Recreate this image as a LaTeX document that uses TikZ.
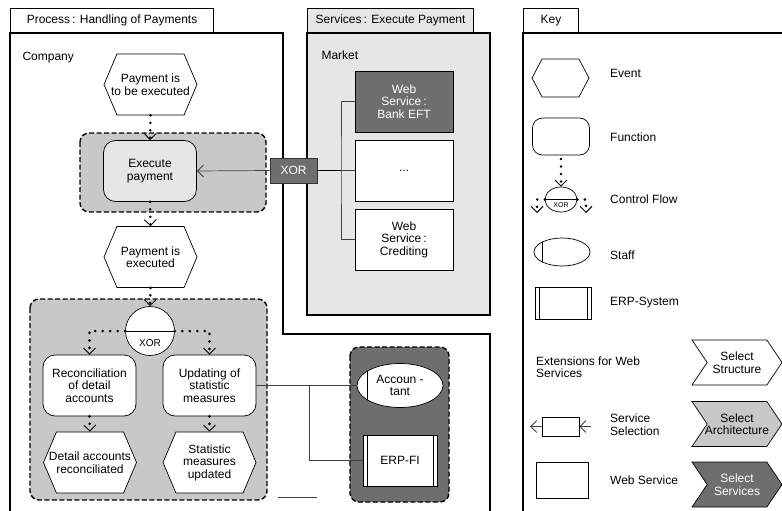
\documentclass[tikz,border=0pt]{standalone}
\usepackage{fontspec}
\setmainfont{Liberation Sans}
\usepackage{tikz}
\usetikzlibrary{arrows.meta,shapes.geometric,shapes.symbols}
\definecolor{epcdark}{HTML}{6E6E6E}
\definecolor{epcmid}{HTML}{C8C8C8}
\definecolor{epclight}{HTML}{E6E6E6}

\begin{document}
\begin{tikzpicture}[x=1pt, y=-1pt,
  >={Straight Barb[length=6pt,width=12pt,line width=0.9pt]},
  every node/.style={font=\fontsize{12}{12.5}\selectfont, align=center},
  frame/.style={line width=1.1pt},
  tabbox/.style={draw, line width=1.1pt, anchor=south west, minimum height=24pt, inner sep=0pt},
  grp/.style={draw, line width=1.4pt, dash pattern=on 5pt off 2.5pt, rounded corners=9pt},
  event/.style={draw, line width=0.7pt, fill=white, shape=signal, signal to=east and west,
    signal pointer angle=134, inner xsep=-12pt, minimum width=93pt, minimum height=61pt},
  func/.style={draw, line width=0.7pt, fill=white, rectangle, rounded corners=12pt,
    minimum width=93pt, minimum height=61pt, inner sep=1pt},
  websrv/.style={draw, line width=0.7pt, fill=white, minimum width=98pt, minimum height=61pt, inner sep=0pt},
  xorc/.style 2 args={draw, line width=0.7pt, fill=white, inner sep=0pt,
    path picture={\draw (path picture bounding box.west) -- (path picture bounding box.east);},
    label={[font=\fontsize{#1}{#1}\selectfont, inner sep=0pt, yshift=-#2]center:XOR}},
  xorbox/.style={draw=black!80, line width=0.7pt, fill=epcdark, text=white, minimum width=47pt, minimum height=25pt, inner sep=0pt},
  staff/.style={draw, ellipse, line width=0.7pt, fill=white, inner sep=0pt,
    path picture={\draw ([xshift=#1]path picture bounding box.north west) -- ([xshift=#1]path picture bounding box.south west);}},
  staff/.default=10pt,
  erp/.style={draw, line width=0.7pt, fill=white, inner sep=0pt,
    path picture={\draw ([xshift=4pt]path picture bounding box.north west) -- ([xshift=4pt]path picture bounding box.south west);
      \draw ([xshift=-4pt]path picture bounding box.north east) -- ([xshift=-4pt]path picture bounding box.south east);}},
  chev/.style={draw, line width=0.7pt, shape=signal, signal from=west, signal to=east,
    signal pointer angle=112, inner xsep=-4pt, minimum width=90pt, minimum height=45pt},
  flow/.style={->, line width=2.8pt, dash pattern=on 0pt off 7.5pt, line cap=round},
  wire/.style={line width=0.7pt, black!75},
  sel/.style={->, line width=0.7pt, black!75},
  keytxt/.style={anchor=west, inner sep=0pt, align=left}]

  \useasboundingbox (0,0) rectangle (782,511);

  % frames
  \node[tabbox, minimum width=203pt] (proctab) at (10,33) {Process\,: Handling of Payments};
  \draw[frame] (10,515) -- (10,33) -- (283,33) -- (283,334) -- (490,334) -- (490,515);
  \node[tabbox, fill=epclight, minimum width=166pt] (srvtab) at (307,33) {Services\,: Execute Payment};
  \draw[frame, fill=epclight] (307,33) rectangle (490,315);
  \node[tabbox, minimum width=55pt] (keytab) at (523,33) {Key};
  \draw[frame] (523,515) -- (523,33) -- (790,33);

  \node[anchor=west] (company) at (19,58) {Company};
  \node[anchor=west] (market) at (318,55) {Market};

  % groups
  \draw[grp, fill=epcmid] (80,133) rectangle (266,212);
  \draw[grp, fill=epcmid] (30,299) rectangle (267,500);
  \draw[grp, fill=epcdark] (350,347) rectangle (449,502);

  % process chain
  \node[event] (tobeexec) at (150.5,84.5) {Payment is\\to be executed};
  \node[func, fill=epclight] (execpay) at (150,171) {Execute\\payment};
  \node[event] (executed) at (150.5,257) {Payment is\\executed};
  \node[xorc={10}{12pt}, circle, minimum size=49pt] (split) at (150,331) {};
  \node[func] (reconcile) at (89.5,385.5) {Reconciliation\\of detail\\accounts};
  \node[func] (updating) at (209.5,385.5) {Updating of\\statistic\\measures};
  \node[event] (reconciled) at (90,462.5) {Detail accounts\\reconciliated};
  \node[event] (updated) at (209.5,462.5) {Statistic\\measures\\updated};

  \draw[flow] (tobeexec.south) -- (execpay.north);
  \draw[flow] (execpay.south) -- (executed.north);
  \draw[flow] (executed.south) -- (split.north);
  \draw[flow] (split.west) -| (reconcile.north);
  \draw[flow] (split.east) -| (updating.north);
  \draw[flow] (reconcile.south) -- (reconciled.north);
  \draw[flow] (updating.south) -- (updated.north);

  % web services
  \node[websrv, fill=epcdark, text=white] (bankeft) at (404,101.5) {Web\\Service\,:\\Bank EFT};
  \node[websrv] (other) at (404,170.5) {...};
  \node[websrv] (crediting) at (404,239.5) {Web\\Service\,:\\Crediting};
  \node[xorbox] (choose) at (293.5,170.5) {XOR};
  \coordinate (fork) at (341,170.5);

  \draw[sel] (choose.west) -- (execpay.east);
  \draw[line width=1.4pt] (choose.east) -- (fork);
  \draw[wire] (bankeft.west) -| (fork) |- (crediting.west);
  \draw[wire] (fork) -- (other.west);

  % resources
  \node[staff, minimum width=86pt, minimum height=44pt] (accountant) at (400,385.5) {Accoun -\\tant};
  \node[erp, minimum width=74pt, minimum height=51pt] (erpfi) at (400,460.5) {ERP-FI};
  \coordinate (tap) at (309,385.5);
  \draw[wire] (updating.east) -- (accountant.west);
  \draw[wire] (tap) |- (erpfi.west);
  \draw[wire] (278,497) -- (317,497);

  % key
  \node[event, signal pointer angle=124, minimum width=57pt, minimum height=38pt] (kevent) at (560.5,78) {};
  \node[func, rounded corners=10pt, minimum width=57pt, minimum height=37pt] (kfunc) at (561,136.5) {};
  \node[xorc={7}{6pt}, ellipse, minimum width=32pt, minimum height=25pt] (kflow) at (561,199.5) {};
  \coordinate (kin) at (561,159);
  \coordinate (kleft) at (537,213);
  \coordinate (kright) at (586,213);
  \draw[flow] (kin) -- (kflow.north);
  \draw[flow] (kflow.west) -| (kleft);
  \draw[flow] (kflow.east) -| (kright);
  \node[staff=8pt, minimum width=56pt, minimum height=28pt] (kstaff) at (562,252) {};
  \node[erp, minimum width=56pt, minimum height=32pt] (kerp) at (563,303) {};
  \node[websrv, minimum width=37pt, minimum height=19pt] (ksel) at (560.5,426.5) {};
  \coordinate (kselout) at (530,426.5);
  \coordinate (kselin) at (591,426.5);
  \draw[sel] (ksel.west) -- (kselout);
  \draw[sel] (kselin) -- (ksel.east);
  \node[websrv, minimum width=52pt, minimum height=36pt] (kws) at (562,480) {};

  \node[keytxt] (tevent) at (610,73) {Event};
  \node[keytxt] (tfunc) at (610,137) {Function};
  \node[keytxt] (tflow) at (610,199) {Control Flow};
  \node[keytxt] (tstaff) at (610,255) {Staff};
  \node[keytxt] (terp) at (610,303) {ERP-System};
  \node[keytxt] (text) at (536,367) {Extensions for Web\\Services};
  \node[keytxt] (tsel) at (610,424.5) {Service\\Selection};
  \node[keytxt] (tws) at (610,480) {Web Service};

  \node[chev, fill=white] (kstruct) at (737,362.5) {Select\\Structure};
  \node[chev, fill=epcmid] (karch) at (737,424) {Select\\Architecture};
  \node[chev, fill=epcdark, text=white] (kserv) at (737,484.5) {Select\\Services};
\end{tikzpicture}
\end{document}
